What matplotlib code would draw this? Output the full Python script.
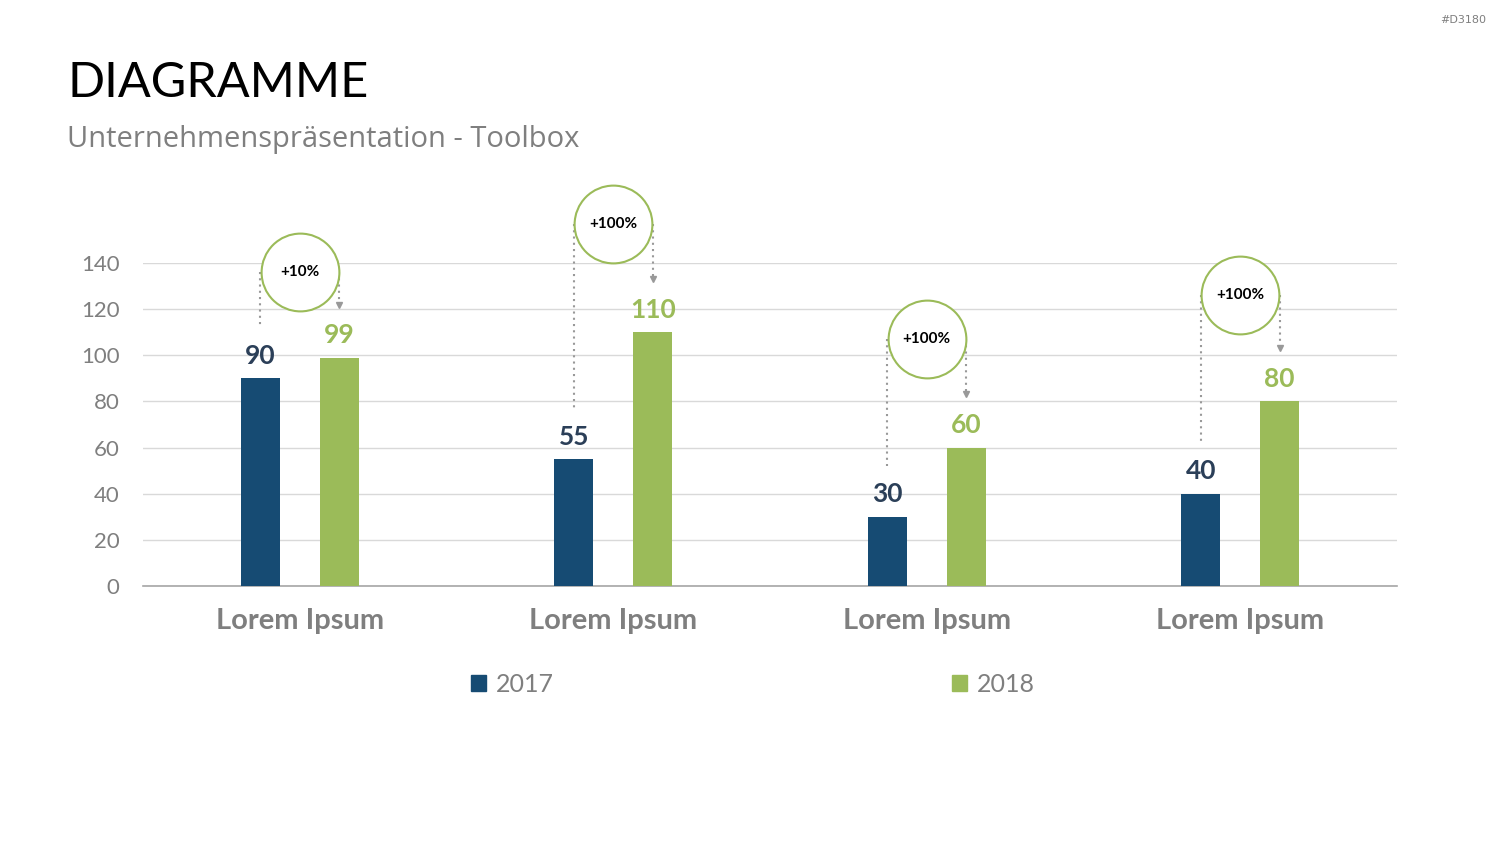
import matplotlib.pyplot as plt
from matplotlib.patches import Patch

plt.rcParams['font.family'] = ['Lato', 'DejaVu Sans']

# data
categories = ['Lorem Ipsum', 'Lorem Ipsum', 'Lorem Ipsum', 'Lorem Ipsum']
values_2017 = [90, 55, 30, 40]
values_2018 = [99, 110, 60, 80]
changes = ['+10%', '+100%', '+100%', '+100%']
series_names = ['2017', '2018']

# layout of the change bubbles (data units)
bubble_y = [136, 157, 107, 126]

navy = '#164b73'
green = '#9bbb59'
navy_text = '#2b3f58'
gray = '#7f7f7f'

fig = plt.figure(figsize=(15, 8.44), dpi=100)
ax = fig.add_axes([0.0953, 0.3057, 0.836, 0.3827])

x = list(range(len(categories)))
w = 0.125
off = 0.126
ax.bar([i - off for i in x], values_2017, w, color=navy, zorder=3)
ax.bar([i + off for i in x], values_2018, w, color=green, zorder=3)

ax.set_xlim(-0.5, len(categories) - 0.5)
ax.set_ylim(0, 140)
ax.set_yticks(range(0, 141, 20))
ax.yaxis.grid(True, color='#d9d9d9', lw=1)
ax.set_axisbelow(True)
for s in ['top', 'right', 'left']:
    ax.spines[s].set_visible(False)
ax.spines['bottom'].set_color('#a6a6a6')
ax.spines['bottom'].set_linewidth(1.2)
ax.tick_params(axis='y', length=0, labelsize=16, labelcolor=gray, pad=17)
ax.tick_params(axis='x', length=0, labelsize=21, labelcolor=gray, pad=16)
ax.set_xticks(x)
ax.set_xticklabels(categories, fontweight='bold')

for i in x:
    a, b = values_2017[i], values_2018[i]
    ax.text(i - off, a + 4.5, str(a), ha='center', va='bottom', fontsize=19,
            fontweight='bold', color=navy_text)
    ax.text(i + off, b + 4.5, str(b), ha='center', va='bottom', fontsize=19,
            fontweight='bold', color=green)
    by = bubble_y[i]
    # dotted connectors
    ax.plot([i - off, i - off], [by, a + 22], ls=(0, (1, 2)), color='#999999',
            lw=1.5, clip_on=False, zorder=4)
    ax.plot([i + off, i + off], [by, b + 23.5], ls=(0, (1, 2)), color='#999999',
            lw=1.5, clip_on=False, zorder=4)
    ax.plot(i + off, b + 23, marker='v', ms=5, color='#999999',
            clip_on=False, zorder=4)
    ax.scatter(i, by, s=3136, facecolor='white', edgecolor=green, lw=1.5,
               clip_on=False, zorder=5)
    ax.text(i, by, changes[i], ha='center', va='center', fontsize=11,
            fontweight='bold', color='black', zorder=6)

handles = [Patch(color=navy), Patch(color=green)]
fig.legend(handles, series_names, loc='center', bbox_to_anchor=(0.502, 1 - 684 / 844),
           ncol=2, frameon=False, fontsize=18, labelcolor=gray, handlelength=0.6,
           handleheight=0.6, handletextpad=0.4, columnspacing=15.9)

fig.text(67 / 1500, 1 - 83 / 844, 'DIAGRAMME', fontsize=35, color='black',
         ha='left', va='center')
fig.text(67 / 1500, 1 - 139 / 844, 'Unternehmenspräsentation - Toolbox',
         fontsize=21, color=gray, ha='left', va='center', family='Open Sans')
fig.text(1486 / 1500, 1 - 20 / 844, '#D3180', fontsize=8, color=gray,
         ha='right', va='center', family='DejaVu Sans')

fig.savefig('out.png', dpi=100)
